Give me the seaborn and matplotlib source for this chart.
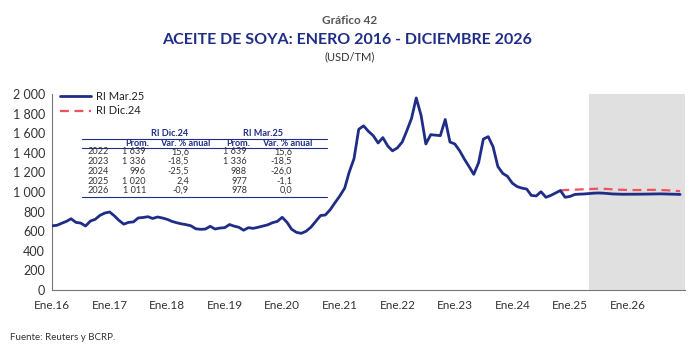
import numpy as np
import pandas as pd
import seaborn as sns
import matplotlib.pyplot as plt
import matplotlib.ticker as mticker

# monthly prices, USD/TM, Jan 2016 - Dec 2026
ri_mar25 = [
    655, 660, 680, 700, 727, 690, 683, 653, 704, 721, 762, 785,
    796, 755, 710, 672, 690, 695, 735, 740, 748, 730, 745, 735,
    721, 700, 687, 675, 667, 655, 625, 619, 622, 650, 622, 632,
    636, 668, 652, 640, 610, 636, 629, 640, 653, 665, 687, 700,
    742, 690, 620, 588, 578, 600, 640, 700, 760, 765, 820, 890,
    960, 1040, 1200, 1340, 1640, 1675, 1620, 1575, 1500, 1555, 1470, 1420,
    1450, 1510, 1620, 1750, 1960, 1780, 1490, 1585, 1580, 1575, 1740, 1510,
    1490, 1420, 1340, 1260, 1180, 1300, 1540, 1565, 1460, 1260, 1190, 1160,
    1090, 1055, 1040, 1030, 965, 960, 1003, 946, 965, 990, 1015, 946,
    955, 975, 978, 980, 984, 988, 990, 988, 984, 980, 978, 977,
    977, 977, 977, 978, 979, 980, 981, 981, 980, 979, 977, 975,
]
# RI Dic.24 forecast, Nov 2024 - Dec 2026
ri_dic24 = [
    1015, 1020,
    1022, 1024, 1026, 1028, 1030, 1032, 1034, 1033, 1030, 1027, 1024, 1022,
    1021, 1020, 1020, 1020, 1021, 1022, 1022, 1020, 1018, 1015, 1012, 1008,
]

years = ["2022", "2023", "2024", "2025", "2026"]
dic24_prom = ["1 639", "1 336", "996", "1 020", "1 011"]
dic24_var = ["15,6", "-18,5", "-25,5", "2,4", "-0,9"]
mar25_prom = ["1 639", "1 336", "988", "977", "978"]
mar25_var = ["15,6", "-18,5", "-26,0", "-1,1", "0,0"]

dates = pd.date_range("2016-01-01", "2026-12-01", freq="MS")
df = pd.DataFrame({"fecha": dates, "RI Mar.25": ri_mar25})
df_dic = pd.DataFrame({"fecha": dates[-len(ri_dic24):], "RI Dic.24": ri_dic24})

sns.set_theme(style="white")
plt.rcParams["font.family"] = ["Lato", "DejaVu Sans"]

navy = "#1f2d86"
red = "#f0525c"

fig = plt.figure(figsize=(7, 3.5), dpi=100)
W, H = 700, 350
ax = fig.add_axes([52 / W, 1 - 290 / H, 633 / W, 196 / H])

ax.axvspan(pd.Timestamp("2025-05-01"), pd.Timestamp("2027-01-01"), color="#e0e0e0", lw=0, zorder=0)
sns.lineplot(data=df, x="fecha", y="RI Mar.25", ax=ax, color=navy, lw=2.0, label="RI Mar.25", zorder=3)
sns.lineplot(data=df_dic, x="fecha", y="RI Dic.24", ax=ax, color=red, lw=1.6, label="RI Dic.24", zorder=2)
ax.lines[-1].set_dashes((4, 2.5))

ax.set_xlim(pd.Timestamp("2016-01-01"), pd.Timestamp("2027-01-01"))
ax.set_ylim(0, 2000)
ax.set_xlabel("")
ax.set_ylabel("")

xt = pd.date_range("2016-01-01", "2027-01-01", freq="YS")
ax.set_xticks(xt)
ax.set_xticklabels([f"Ene.{d.year % 100}" if d.year < 2027 else "" for d in xt], fontsize=8.5, color="#333333")
ax.set_yticks(np.arange(0, 2001, 200))
ax.yaxis.set_major_formatter(mticker.FuncFormatter(lambda v, p: f"{int(v):,}".replace(",", " ")))
ax.tick_params(axis="y", labelsize=9, labelcolor="#333333")
ax.tick_params(axis="both", direction="inout", length=4, width=0.8, color="#777777", pad=3)
ax.tick_params(axis="x", pad=5)
sns.despine(ax=ax)
for s in ["left", "bottom"]:
    ax.spines[s].set_color("#777777")
    ax.spines[s].set_linewidth(0.8)

leg = ax.legend(loc="upper left", bbox_to_anchor=(0.005, 1.04), frameon=False, fontsize=8,
                handlelength=2.8, handletextpad=0.5, labelspacing=0.35, borderaxespad=0)
for t in leg.get_texts():
    t.set_color("#222222")


def px(x, y):
    return x / W, 1 - y / H


# titles
fig.text(*px(350, 20), "Gráfico 42", ha="center", va="center", fontsize=8.5, fontweight="bold", color="#555555")
fig.text(*px(347, 40), "ACEITE DE SOYA: ENERO 2016 - DICIEMBRE 2026", ha="center", va="center",
         fontsize=11.5, fontweight="bold", color=navy)
fig.text(*px(350, 57), "(USD/TM)", ha="center", va="center", fontsize=8, color="#333333")
fig.text(*px(10, 338), "Fuente: Reuters y BCRP.", ha="left", va="center", fontsize=7, color="#333333")

# table inset
tcol = "#333333"
hs = 6.6
fig.text(*px(170, 133), "RI Dic.24", ha="center", va="center", fontsize=hs, fontweight="bold", color=navy)
fig.text(*px(263, 133), "RI Mar.25", ha="center", va="center", fontsize=hs, fontweight="bold", color=navy)
fig.add_artist(plt.Line2D([82 / W, 327 / W], [1 - 138.5 / H] * 2, color=navy, lw=0.8))
fig.text(*px(137, 143), "Prom.", ha="center", va="center", fontsize=hs, fontweight="bold", color=navy)
fig.text(*px(185, 143), "Var. % anual", ha="center", va="center", fontsize=hs, fontweight="bold", color=navy)
fig.text(*px(238, 143), "Prom.", ha="center", va="center", fontsize=hs, fontweight="bold", color=navy)
fig.text(*px(287, 143), "Var. % anual", ha="center", va="center", fontsize=hs, fontweight="bold", color=navy)
fig.add_artist(plt.Line2D([82 / W, 327 / W], [1 - 147.7 / H] * 2, color=navy, lw=0.8))
row_y = [152, 161.5, 171, 181, 190.5]
for i, yy in enumerate(row_y):
    fig.text(*px(88, yy), years[i], ha="left", va="center", fontsize=hs, color=tcol)
    fig.text(*px(146, yy), dic24_prom[i], ha="right", va="center", fontsize=hs, color=tcol)
    fig.text(*px(189, yy), dic24_var[i], ha="right", va="center", fontsize=hs, color=tcol)
    fig.text(*px(247, yy), mar25_prom[i], ha="right", va="center", fontsize=hs, color=tcol)
    fig.text(*px(292, yy), mar25_var[i], ha="right", va="center", fontsize=hs, color=tcol)
fig.add_artist(plt.Line2D([82 / W, 327 / W], [1 - 197.3 / H] * 2, color=navy, lw=0.8))

fig.savefig("out.png", dpi=100)
